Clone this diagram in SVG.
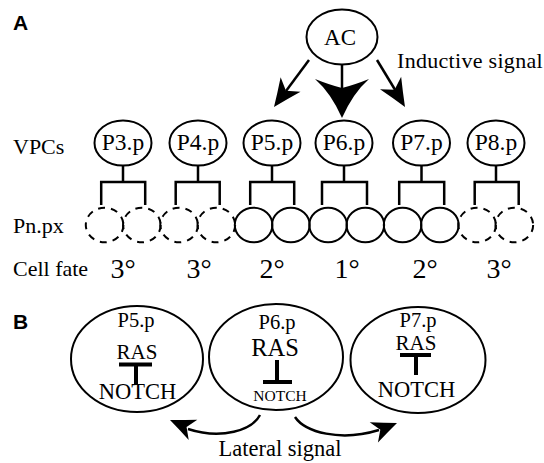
<svg xmlns="http://www.w3.org/2000/svg" width="544" height="463" viewBox="0 0 544 463">
  <style>
    .cell { fill: none; stroke: #000; stroke-width: 2; }
    .dash { stroke-dasharray: 7 6; }
    .line { fill: none; stroke: #000; stroke-width: 2.5; }
    .bar { fill: none; stroke: #000; stroke-width: 4; }
    .serif { font-family: "Liberation Serif", "Times New Roman", serif; fill: #000; }
    .panel { font-family: "Liberation Sans", Arial, sans-serif; font-weight: bold; font-size: 21px; fill: #000; }
    .mid { text-anchor: middle; }
    .head { fill: #000; stroke: none; }
  </style>
  <defs>
    <!-- barbed arrowhead, tip at origin, pointing along +x -->
    <path id="barb" d="M0,0 Q-12,-5 -25,-11 L-18,0 L-25,11 Q-12,5 0,0 Z"/>
  </defs>
  <rect width="544" height="463" fill="#fff"/>

  <!-- panel labels -->
  <text class="panel" x="13" y="30">A</text>
  <text class="panel" x="13" y="329">B</text>

  <!-- row labels -->
  <text class="serif" x="13" y="154" font-size="22">VPCs</text>
  <text class="serif" x="13" y="233" font-size="22">Pn.px</text>
  <text class="serif" x="13" y="276" font-size="22">Cell fate</text>
  <text class="serif" x="397" y="68" font-size="22" letter-spacing="0.3">Inductive signal</text>

  <g id="ac">
    <ellipse class="cell" cx="342" cy="37" rx="35.5" ry="27.5"/>
    <text class="serif mid" x="340" y="45" font-size="23">AC</text>
  </g>

  <!-- vulval precursor cells -->
  <g id="p3">
    <ellipse class="cell" cx="123" cy="143" rx="28.5" ry="22.5"/>
    <text class="serif mid" x="123" y="150" font-size="23.5">P3.p</text>
  </g>
  <g id="p4">
    <ellipse class="cell" cx="198" cy="143" rx="28.5" ry="22.5"/>
    <text class="serif mid" x="198" y="150" font-size="23.5">P4.p</text>
  </g>
  <g id="p5">
    <ellipse class="cell" cx="272" cy="143" rx="28.5" ry="22.5"/>
    <text class="serif mid" x="272" y="150" font-size="23.5">P5.p</text>
  </g>
  <g id="p6">
    <ellipse class="cell" cx="344" cy="143" rx="28.5" ry="22.5"/>
    <text class="serif mid" x="344" y="150" font-size="23.5">P6.p</text>
  </g>
  <g id="p7">
    <ellipse class="cell" cx="421.5" cy="143" rx="28.5" ry="22.5"/>
    <text class="serif mid" x="421.5" y="150" font-size="23.5">P7.p</text>
  </g>
  <g id="p8">
    <ellipse class="cell" cx="496" cy="143" rx="28.5" ry="22.5"/>
    <text class="serif mid" x="496" y="150" font-size="23.5">P8.p</text>
  </g>

  <!-- daughter cells -->
  <g id="p3-daughters">
    <ellipse class="cell dash" cx="104.6" cy="225" rx="18.8" ry="17.3"/>
    <ellipse class="cell dash" cx="141.85" cy="225" rx="18.8" ry="17.3"/>
  </g>
  <g id="p4-daughters">
    <ellipse class="cell dash" cx="179.1" cy="225" rx="18.8" ry="17.3"/>
    <ellipse class="cell dash" cx="216.35" cy="225" rx="18.8" ry="17.3"/>
  </g>
  <g id="p5-daughters">
    <ellipse class="cell" cx="253.6" cy="225" rx="18.8" ry="17.3"/>
    <ellipse class="cell" cx="290.85" cy="225" rx="18.8" ry="17.3"/>
  </g>
  <g id="p6-daughters">
    <ellipse class="cell" cx="328.1" cy="225" rx="18.8" ry="17.3"/>
    <ellipse class="cell" cx="365.35" cy="225" rx="18.8" ry="17.3"/>
  </g>
  <g id="p7-daughters">
    <ellipse class="cell" cx="402.6" cy="225" rx="18.8" ry="17.3"/>
    <ellipse class="cell" cx="439.85" cy="225" rx="18.8" ry="17.3"/>
  </g>
  <g id="p8-daughters">
    <ellipse class="cell dash" cx="477.1" cy="225" rx="18.8" ry="17.3"/>
    <ellipse class="cell dash" cx="514.35" cy="225" rx="18.8" ry="17.3"/>
  </g>

  <!-- cell fates -->
  <g id="fates" class="serif mid" font-size="28">
    <text x="123" y="278">3°</text>
    <text x="199" y="278">3°</text>
    <text x="272" y="278">2°</text>
    <text x="347" y="278">1°</text>
    <text x="425" y="278">2°</text>
    <text x="499" y="278">3°</text>
  </g>

  <!-- panel B cells -->
  <g id="b-p5">
    <ellipse class="cell" cx="137" cy="359" rx="66" ry="53"/>
    <text class="serif mid" x="136" y="327" font-size="20.5">P5.p</text>
    <text class="serif mid" x="137" y="359" font-size="21">RAS</text>
    <path class="bar" d="M119,364.5 H152 M136,364.5 V384"/>
    <text class="serif mid" x="137.5" y="399" font-size="22.5">NOTCH</text>
  </g>
  <g id="b-p6">
    <ellipse class="cell" cx="276" cy="357" rx="67" ry="53"/>
    <text class="serif mid" x="277" y="329" font-size="20.5">P6.p</text>
    <text class="serif mid" x="275" y="356" font-size="24.5">RAS</text>
    <path class="bar" d="M277,360 V382 M263,382 H292"/>
    <text class="serif mid" x="280" y="401" font-size="15.5">NOTCH</text>
  </g>
  <g id="b-p7">
    <ellipse class="cell" cx="418" cy="360" rx="67.5" ry="53"/>
    <text class="serif mid" x="418" y="327" font-size="20.5">P7.p</text>
    <text class="serif mid" x="416" y="350" font-size="21">RAS</text>
    <path class="bar" d="M400,355 H431 M416,355 V375"/>
    <text class="serif mid" x="416.5" y="397" font-size="22.5">NOTCH</text>
  </g>

  <g id="connectors">
    <!-- lineage brackets -->
    <path class="line" d="M123,165.5 V182 M101.2,205 V182 H145.2 V205"/>
    <path class="line" d="M198,165.5 V182 M175.7,205 V182 H219.7 V205"/>
    <path class="line" d="M272,165.5 V182 M250.2,205 V182 H294.2 V205"/>
    <path class="line" d="M344,165.5 V182 M322,205 V182 H367 V205"/>
    <path class="line" d="M421.5,165.5 V182 M399.2,205 V182 H444.2 V205"/>
    <path class="line" d="M496,165.5 V182 M474.7,205 V182 H518.7 V205"/>

    <!-- inductive signal from the anchor cell -->
    <path class="line" d="M309,60 L286,91"/>
    <use href="#barb" class="head" transform="translate(274,107) rotate(126.3) scale(1.12)"/>
    <path class="line" d="M377,60 L395.5,90.5"/>
    <use href="#barb" class="head" transform="translate(405,107) rotate(59) scale(1.12)"/>
    <path class="line" stroke-width="3" d="M342,64 V90"/>
    <path class="head" d="M342,118 Q331,93 315,79 Q330,85 342,88 Q354,85 369,79 Q353,93 342,118 Z"/>

    <!-- lateral signal -->
    <path class="line" d="M260,415 C252,430 222,440 188,429"/>
    <use href="#barb" class="head" transform="translate(170,420) rotate(203)"/>
    <path class="line" d="M295,417 C305,432 340,442 379,430"/>
    <use href="#barb" class="head" transform="translate(397,423) rotate(-22)"/>
  </g>
  <text class="serif mid" x="280" y="456" font-size="22.5">Lateral signal</text>
</svg>
